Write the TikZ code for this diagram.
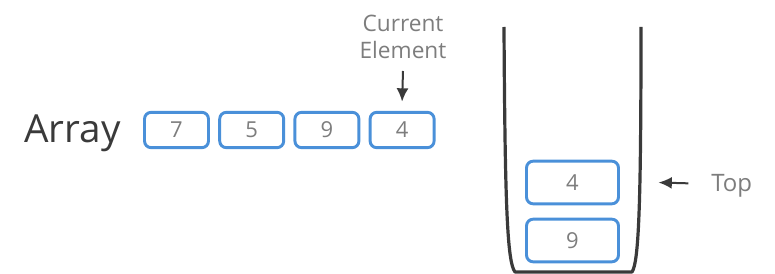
\documentclass[tikz,border=0pt]{standalone}
\usepackage{fontspec}
\setmainfont{Open Sans}
\usepackage{xcolor}
\usetikzlibrary{arrows.meta}
\definecolor{boxblue}{RGB}{74, 144, 217}
\definecolor{wallgray}{RGB}{58, 58, 58}
\definecolor{digitgray}{RGB}{125, 125, 125}

\begin{document}
\begin{tikzpicture}[>={Latex[length=10pt,width=9pt]}, x=0.75pt, y=-0.75pt,
    cell/.style={draw=boxblue, line width=2.2pt, rounded corners=5pt, outer sep=0pt,
        text=digitgray, font=\fontsize{16.5}{19}\selectfont},
    arrcell/.style={cell, minimum width=48pt, minimum height=26.5pt},
    stkcell/.style={cell, minimum width=69pt, minimum height=32pt},
    lbl/.style={inner sep=0pt, text=digitgray},
    pointer/.style={->, line width=1.5pt, draw=wallgray}]
    \useasboundingbox (0,0) rectangle (775,274);

    % Array
    \node[inner sep=0pt, anchor=base west, text=wallgray, font=\fontsize{29}{34}\selectfont] (arr) at (24,143) {Array};
    \foreach \v [count=\i from 0] in {7,5,9,4}
        \node[arrcell] (a\i) at (176.5+75.2*\i,130) {\v};

    % Current element pointer
    \node[lbl, align=center, anchor=south, font=\fontsize{17}{20}\selectfont] (cur) at (403,59) {Current\\Element};
    \draw[pointer] ([yshift=-9pt]cur.south) -- ([yshift=8pt]a3.north);

    % Stack (container)
    \draw[line width=2.4pt, wallgray, line join=round]
        (504,27) .. controls (505,200) and (507,262) .. (515,272) -- (632,272)
        .. controls (639,262) and (641,200) .. (641,27);
    \node[stkcell] (s1) at (572.5,182.5) {4};
    \node[stkcell] (s2) at (572.5,240.5) {9};

    % Top pointer
    \node[lbl, anchor=base west, font=\fontsize{18}{21}\selectfont] (top) at (711,192) {Top};
    \draw[pointer] ([xshift=-17pt,yshift=6.5pt]top.base west) -- ([xshift=30pt]s1.east);
\end{tikzpicture}
\end{document}
